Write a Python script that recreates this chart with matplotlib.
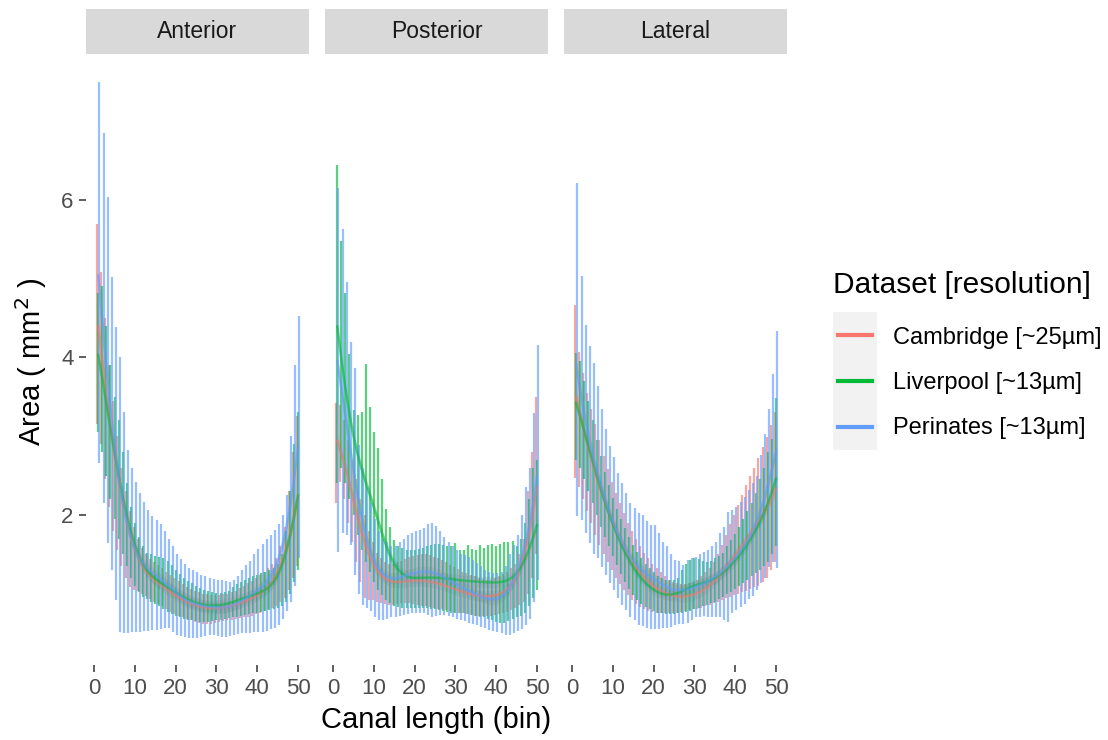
import numpy as np
import matplotlib.pyplot as plt
from matplotlib.lines import Line2D

plt.rcParams['font.family'] = ['Liberation Sans', 'DejaVu Sans']

canals = ['Anterior', 'Posterior', 'Lateral']
datasets = ['Cambridge [~25µm]', 'Liverpool [~13µm]', 'Perinates [~13µm]']
colors = ['#F8766D', '#00BA38', '#619CFF']
bins = np.arange(1, 51)

# ---- Anterior: min / max area per bin ----
ant_cam_hi = [5.69, 5.08, 4.50, 3.90, 3.45, 3.00, 2.60, 2.30, 2.05, 1.85,
              1.70, 1.58, 1.50, 1.44, 1.40, 1.36, 1.32, 1.28, 1.24, 1.20,
              1.16, 1.12, 1.09, 1.06, 1.04, 1.02, 1.00, 0.99, 0.98, 0.98,
              0.98, 0.99, 1.00, 1.02, 1.04, 1.07, 1.10, 1.13, 1.16, 1.20,
              1.24, 1.28, 1.33, 1.38, 1.45, 1.60, 1.85, 2.30, 2.80, 3.25]
ant_cam_lo = [3.16, 2.90, 2.45, 2.10, 1.80, 1.55, 1.35, 1.20, 1.08, 1.05,
              1.03, 1.00, 0.97, 0.93, 0.90, 0.87, 0.84, 0.80, 0.77, 0.74,
              0.72, 0.70, 0.68, 0.66, 0.64, 0.63, 0.62, 0.62, 0.62, 0.63,
              0.64, 0.65, 0.66, 0.67, 0.68, 0.69, 0.70, 0.71, 0.72, 0.74,
              0.76, 0.78, 0.80, 0.82, 0.85, 0.90, 0.95, 1.05, 1.20, 1.35]
ant_liv_hi = [4.82, 4.90, 4.40, 3.90, 3.50, 3.20, 2.80, 2.40, 2.10, 1.90,
              1.72, 1.60, 1.52, 1.50, 1.48, 1.47, 1.45, 1.42, 1.36, 1.30,
              1.25, 1.20, 1.16, 1.13, 1.10, 1.07, 1.05, 1.03, 1.02, 1.01,
              1.01, 1.02, 1.04, 1.08, 1.12, 1.15, 1.18, 1.20, 1.22, 1.24,
              1.26, 1.28, 1.30, 1.33, 1.38, 1.50, 1.80, 2.30, 2.90, 3.30]
ant_liv_lo = [3.05, 2.80, 2.50, 2.20, 1.95, 1.70, 1.50, 1.35, 1.20, 1.10,
              1.02, 0.96, 0.93, 0.90, 0.87, 0.84, 0.80, 0.77, 0.74, 0.72,
              0.70, 0.68, 0.67, 0.66, 0.65, 0.64, 0.64, 0.64, 0.65, 0.66,
              0.67, 0.68, 0.69, 0.70, 0.71, 0.72, 0.73, 0.74, 0.75, 0.76,
              0.77, 0.78, 0.79, 0.80, 0.82, 0.85, 0.90, 1.00, 1.15, 1.30]
ant_per_hi = [7.50, 6.85, 6.03, 5.02, 4.38, 4.00, 3.30, 2.82, 2.59, 2.42,
              2.28, 2.16, 2.06, 1.99, 1.94, 1.88, 1.80, 1.70, 1.60, 1.50,
              1.44, 1.38, 1.33, 1.30, 1.27, 1.24, 1.22, 1.20, 1.19, 1.18,
              1.17, 1.16, 1.15, 1.17, 1.22, 1.30, 1.37, 1.42, 1.50, 1.57,
              1.63, 1.69, 1.75, 1.81, 1.88, 2.00, 2.25, 3.00, 3.90, 4.53]
ant_per_lo = [2.66, 2.15, 1.64, 1.30, 0.92, 0.51, 0.50, 0.50, 0.51, 0.51,
              0.52, 0.53, 0.53, 0.54, 0.54, 0.55, 0.57, 0.56, 0.52, 0.47,
              0.46, 0.45, 0.44, 0.44, 0.44, 0.45, 0.46, 0.47, 0.47, 0.46,
              0.45, 0.45, 0.46, 0.48, 0.49, 0.50, 0.50, 0.50, 0.51, 0.51,
              0.52, 0.53, 0.55, 0.57, 0.60, 0.68, 0.78, 0.90, 1.10, 1.45]

# ---- Posterior ----
pos_cam_hi = [3.42, 3.40, 3.20, 2.95, 2.70, 2.45, 2.20, 2.00, 1.80, 1.65,
              1.52, 1.45, 1.40, 1.38, 1.38, 1.40, 1.42, 1.44, 1.46, 1.48,
              1.49, 1.50, 1.50, 1.49, 1.47, 1.45, 1.43, 1.40, 1.37, 1.34,
              1.31, 1.28, 1.26, 1.24, 1.22, 1.20, 1.19, 1.18, 1.18, 1.20,
              1.22, 1.25, 1.28, 1.32, 1.38, 1.50, 1.70, 2.30, 2.80, 3.50]
pos_cam_lo = [2.15, 2.42, 2.20, 1.90, 1.65, 1.40, 1.15, 0.95, 0.92, 0.92,
              0.90, 0.88, 0.87, 0.86, 0.86, 0.87, 0.88, 0.88, 0.88, 0.87,
              0.86, 0.85, 0.84, 0.83, 0.82, 0.81, 0.80, 0.79, 0.78, 0.77,
              0.76, 0.75, 0.74, 0.73, 0.72, 0.72, 0.72, 0.72, 0.72, 0.73,
              0.74, 0.75, 0.77, 0.79, 0.82, 0.86, 0.90, 1.00, 1.20, 1.50]
pos_liv_hi = [6.44, 5.48, 4.82, 4.04, 3.33, 3.27, 3.31, 3.92, 3.37, 3.05,
              2.85, 2.46, 2.08, 1.85, 1.68, 1.60, 1.58, 1.55, 1.55, 1.56,
              1.57, 1.58, 1.60, 1.62, 1.63, 1.63, 1.62, 1.60, 1.60, 1.64,
              1.56, 1.55, 1.62, 1.57, 1.56, 1.62, 1.58, 1.62, 1.63, 1.60,
              1.63, 1.65, 1.66, 1.67, 1.60, 1.70, 1.90, 2.20, 2.60, 2.70]
pos_liv_lo = [2.40, 2.60, 2.40, 2.20, 2.00, 1.75, 1.55, 1.40, 1.28, 1.15,
              1.05, 0.98, 0.92, 0.88, 0.85, 0.83, 0.82, 0.82, 0.82, 0.82,
              0.82, 0.82, 0.82, 0.81, 0.80, 0.79, 0.78, 0.77, 0.76, 0.76,
              0.76, 0.75, 0.74, 0.73, 0.72, 0.71, 0.70, 0.68, 0.66, 0.64,
              0.63, 0.63, 0.65, 0.68, 0.70, 0.72, 0.75, 0.85, 0.95, 1.05]
pos_per_hi = [6.15, 5.63, 4.95, 4.20, 3.87, 2.89, 2.60, 2.35, 2.15, 1.95,
              1.80, 1.70, 1.65, 1.60, 1.60, 1.65, 1.70, 1.74, 1.77, 1.79,
              1.81, 1.84, 1.88, 1.90, 1.86, 1.80, 1.72, 1.65, 1.60, 1.55,
              1.51, 1.49, 1.47, 1.43, 1.39, 1.35, 1.30, 1.28, 1.26, 1.26,
              1.28, 1.35, 1.50, 1.62, 1.74, 2.00, 2.35, 2.60, 3.29, 4.16]
pos_per_lo = [1.53, 1.77, 1.75, 1.62, 1.24, 1.00, 0.86, 0.82, 0.78, 0.70,
              0.66, 0.66, 0.68, 0.70, 0.71, 0.72, 0.73, 0.74, 0.75, 0.76,
              0.76, 0.75, 0.73, 0.71, 0.72, 0.73, 0.73, 0.72, 0.70, 0.68,
              0.67, 0.65, 0.63, 0.62, 0.60, 0.58, 0.56, 0.54, 0.53, 0.52,
              0.50, 0.48, 0.47, 0.50, 0.53, 0.55, 0.60, 0.68, 0.90, 1.17]

# ---- Lateral ----
lat_cam_hi = [4.67, 4.07, 3.80, 3.55, 3.35, 3.15, 2.95, 2.75, 2.58, 2.42,
              2.28, 2.15, 2.02, 1.90, 1.80, 1.70, 1.60, 1.52, 1.45, 1.38,
              1.32, 1.27, 1.22, 1.18, 1.15, 1.13, 1.12, 1.12, 1.13, 1.15,
              1.18, 1.22, 1.27, 1.33, 1.40, 1.50, 1.62, 1.75, 1.88, 2.00,
              2.12, 2.25, 2.38, 2.50, 2.60, 2.72, 2.86, 2.99, 3.14, 3.30]
lat_cam_lo = [2.47, 2.35, 2.20, 2.05, 1.90, 1.75, 1.62, 1.50, 1.40, 1.30,
              1.20, 1.12, 1.05, 0.98, 0.92, 0.87, 0.83, 0.80, 0.78, 0.77,
              0.76, 0.76, 0.76, 0.76, 0.76, 0.76, 0.77, 0.78, 0.79, 0.80,
              0.81, 0.82, 0.84, 0.86, 0.88, 0.90, 0.92, 0.94, 0.96, 0.98,
              1.00, 1.02, 1.04, 1.06, 1.08, 1.10, 1.15, 1.20, 1.30, 1.40]
lat_liv_hi = [4.06, 3.95, 3.70, 3.45, 3.20, 2.95, 2.75, 2.55, 2.38, 2.22,
              2.08, 1.95, 1.83, 1.72, 1.62, 1.53, 1.45, 1.38, 1.32, 1.27,
              1.23, 1.20, 1.18, 1.17, 1.17, 1.20, 1.30, 1.38, 1.43, 1.45,
              1.44, 1.42, 1.40, 1.42, 1.45, 1.48, 1.52, 1.60, 1.68, 1.76,
              1.85, 1.95, 2.05, 2.15, 2.28, 2.45, 2.60, 2.80, 2.96, 3.49]
lat_liv_lo = [2.70, 2.60, 2.45, 2.30, 2.15, 2.00, 1.85, 1.72, 1.60, 1.48,
              1.36, 1.25, 1.15, 1.06, 0.98, 0.92, 0.87, 0.83, 0.80, 0.78,
              0.76, 0.75, 0.74, 0.74, 0.74, 0.75, 0.76, 0.77, 0.78, 0.80,
              0.82, 0.84, 0.86, 0.88, 0.90, 0.93, 0.96, 0.99, 1.02, 1.06,
              1.10, 1.14, 1.18, 1.22, 1.26, 1.30, 1.35, 1.40, 1.50, 1.60]
lat_per_hi = [6.21, 5.03, 4.41, 4.15, 3.93, 3.64, 3.35, 3.09, 2.88, 2.74,
              2.53, 2.40, 2.28, 2.15, 2.09, 2.02, 2.00, 1.92, 1.87, 1.87,
              1.77, 1.66, 1.60, 1.51, 1.43, 1.41, 1.37, 1.43, 1.45, 1.47,
              1.50, 1.53, 1.56, 1.60, 1.66, 1.77, 1.85, 2.04, 2.06, 2.10,
              2.17, 2.23, 2.32, 2.40, 2.49, 2.76, 3.03, 3.35, 3.79, 4.34]
lat_per_lo = [1.98, 1.94, 1.77, 1.64, 1.51, 1.45, 1.34, 1.24, 1.13, 1.05,
              0.95, 0.86, 0.79, 0.71, 0.67, 0.60, 0.59, 0.56, 0.55, 0.55,
              0.55, 0.56, 0.56, 0.58, 0.60, 0.62, 0.62, 0.63, 0.67, 0.71,
              0.71, 0.72, 0.71, 0.70, 0.70, 0.70, 0.67, 0.64, 0.75, 0.79,
              0.83, 0.87, 0.93, 0.97, 1.05, 1.13, 1.20, 1.34, 1.40, 1.33]

ranges = {
    'Anterior': [(ant_cam_lo, ant_cam_hi), (ant_liv_lo, ant_liv_hi), (ant_per_lo, ant_per_hi)],
    'Posterior': [(pos_cam_lo, pos_cam_hi), (pos_liv_lo, pos_liv_hi), (pos_per_lo, pos_per_hi)],
    'Lateral': [(lat_cam_lo, lat_cam_hi), (lat_liv_lo, lat_liv_hi), (lat_per_lo, lat_per_hi)],
}


def smooth(x, y, bw=2.5):
    # local linear kernel smoother (stand-in for geom_smooth)
    x = np.asarray(x, float)
    y = np.asarray(y, float)
    fit = []
    for x0 in x:
        w = np.exp(-0.5 * ((x - x0) / bw) ** 2)
        xm = np.sum(w * x) / w.sum()
        ym = np.sum(w * y) / w.sum()
        b = np.sum(w * (x - xm) * (y - ym)) / np.sum(w * (x - xm) ** 2)
        fit.append(ym + b * (x0 - xm))
    return np.array(fit)


W, H = 1108, 740
fig = plt.figure(figsize=(W / 100, H / 100), dpi=100)
fig.patch.set_facecolor('white')

panel_left = [86, 325, 564]
panel_w = 223
panel_top, panel_bot = 54, 665
strip_top = 9
dodge = [-0.3, 0.0, 0.3]

for i, canal in enumerate(canals):
    ax = fig.add_axes([panel_left[i] / W, 1 - panel_bot / H,
                       panel_w / W, (panel_bot - panel_top) / H])
    for k in range(3):
        lo, hi = ranges[canal][k]
        ax.vlines(bins + dodge[k], lo, hi, color=colors[k], alpha=0.65, lw=1.6)
    for k in range(3):
        lo, hi = ranges[canal][k]
        mid = (np.array(lo) + np.array(hi)) / 2
        fit = smooth(bins, mid)
        ax.fill_between(bins, fit - 0.07, fit + 0.07, color='#999999', alpha=0.3, lw=0)
        ax.plot(bins, fit, color=colors[k], lw=1.8, alpha=0.55)
    ax.set_xlim(-2.0, 52.7)
    ax.set_ylim(0.095, 7.85)
    ax.set_xticks([0, 10, 20, 30, 40, 50])
    ax.set_yticks([2, 4, 6])
    for s in ax.spines.values():
        s.set_visible(False)
    ax.tick_params(length=5, width=1.1, color='#333333', labelcolor='#4D4D4D',
                   labelsize=16, pad=4)
    if i > 0:
        ax.set_yticklabels([])
        ax.tick_params(axis='y', length=0)

    sax = fig.add_axes([panel_left[i] / W, 1 - panel_top / H,
                        panel_w / W, (panel_top - strip_top) / H])
    sax.set_facecolor('#D9D9D9')
    sax.set_xticks([])
    sax.set_yticks([])
    for s in sax.spines.values():
        s.set_visible(False)
    sax.text(0.5, 0.5, canal, ha='center', va='center', fontsize=16.5,
             color='#1A1A1A', transform=sax.transAxes)

fig.text(436 / W, 1 - 720 / H, 'Canal length (bin)', ha='center', va='center', fontsize=21)
fig.text(31 / W, 1 - 362 / H, 'Area ( mm$^2$ )', ha='center', va='center',
         rotation=90, fontsize=21)

# legend
fig.text(833 / W, 1 - 285 / H, 'Dataset [resolution]', ha='left', va='center', fontsize=21.5)
lax = fig.add_axes([833 / W, 1 - 450 / H, 44 / W, 138 / H])
lax.set_facecolor('#F2F2F2')
lax.set_xlim(0, 1)
lax.set_ylim(0, 3)
lax.set_xticks([])
lax.set_yticks([])
for s in lax.spines.values():
    s.set_visible(False)
for k in range(3):
    yk = 2.5 - k
    lax.add_line(Line2D([0.12, 0.88], [yk, yk], color=colors[k], lw=3))
    fig.text(893 / W, 1 - (338 + 45 * k) / H, datasets[k], ha='left', va='center',
             fontsize=17)

fig.savefig('out.png', dpi=100)
